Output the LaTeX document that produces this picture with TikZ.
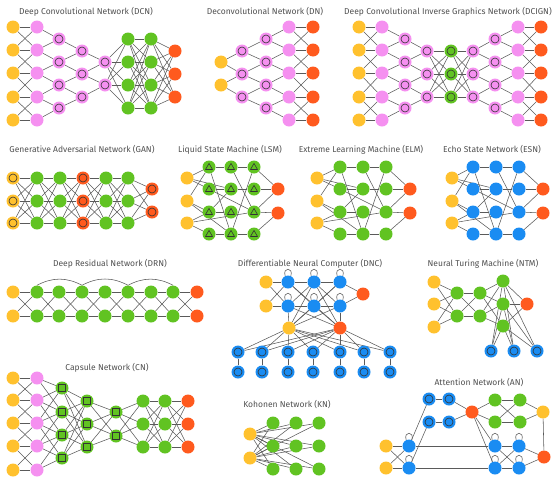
\documentclass[tikz,border=0pt]{standalone}
\usepackage{fontspec}
\setmainfont{Fira Sans}

\definecolor{nnYellow}{HTML}{FFC12E}
\definecolor{nnGreen} {HTML}{61C322}
\definecolor{nnOrange}{HTML}{FF5A1E}
\definecolor{nnPink}  {HTML}{F590F0}
\definecolor{nnBlue}  {HTML}{1A8CF2}
\definecolor{nnEdge}  {HTML}{5A5A5A}
\definecolor{nnText}  {HTML}{505050}
\colorlet{nnRing}{black!80}

\pgfdeclarelayer{edges}
\pgfsetlayers{edges,main}

\tikzset{
  neuron/.style={circle, inner sep=0pt, minimum size=13pt},
  inp/.style ={neuron, fill=nnYellow},
  hid/.style ={neuron, fill=nnGreen},
  outp/.style={neuron, fill=nnOrange},
  kern/.style={neuron, fill=nnPink},
  rec/.style ={neuron, fill=nnBlue},
  ring/.style={path picture={\draw[nnRing, line width=0.6pt]
      (path picture bounding box.center) circle (4pt);}},
  caps/.style={path picture={\draw[nnRing, line width=0.6pt]
      ([shift={(-3.3pt,-3.3pt)}]path picture bounding box.center)
      rectangle ([shift={(3.3pt,3.3pt)}]path picture bounding box.center);}},
  tri/.style={path picture={\draw[nnRing, line width=0.6pt, line join=round]
      ([yshift=3.6pt]path picture bounding box.center)
      -- ([shift={(3.5pt,-2.5pt)}]path picture bounding box.center)
      -- ([shift={(-3.5pt,-2.5pt)}]path picture bounding box.center) -- cycle;}},
  link/.style={draw=nnEdge, line width=0.55pt},
  title/.style={font=\fontsize{8.5}{9}\selectfont, text=nnText, inner sep=0pt},
}

% one column of neurons: name prefix, style, x, list of y
\newcommand{\layer}[4]{%
  \foreach \y [count=\k] in {#4} {\node[#2] (#1\k) at (#3,\y) {};}}
% join two columns: every pair closer than #5 rows
\newcommand{\linkcols}[5]{%
  \foreach \i in {1,...,#2}{\foreach \j in {1,...,#4}{%
    \pgfmathsetmacro{\dd}{abs((\i-(#2+1)/2)-(\j-(#4+1)/2))}%
    \ifdim\dd pt<#5pt \draw[link] (#1\i) -- (#3\j);\fi}}}
% sparse wiring of the reservoir nets
\newcommand{\sparse}[1]{%
  \foreach \a/\b in {A1/B1, A1/B2, A1/C2, A2/B1, A2/B3, A2/C4, A3/B3, A3/B4, A3/D3,
      B1/C1, C1/D1, B1/C4, B2/C2, C2/D2, B2/D3, B3/C3, B4/C4, C4/D4,
      C1/D3, D1/C4, B3/C2, D1/E1, D2/E1, D3/E1, D3/E2, D4/E2}
    {\draw[link] (#1\a) -- (#1\b);}}
\newcommand{\selfloop}[1]{%
  \draw[link] (#1.115) .. controls +(-3,-9) and +(3,-9) .. (#1.65);}

\begin{document}
\begin{tikzpicture}[x=1pt, y=-1pt]
\useasboundingbox (0,0) rectangle (553,477);

% titles
\node[title] (tDCN)   at (86,12)  {Deep Convolutional Network (DCN)};
\node[title] (tDN)    at (265,12) {Deconvolutional Network (DN)};
\node[title] (tDCIGN) at (448,12) {Deep Convolutional Inverse Graphics Network (DCIGN)};
\node[title] (tGAN)   at (82,150) {Generative Adversarial Network (GAN)};
\node[title] (tLSM)   at (230,150) {Liquid State Machine (LSM)};
\node[title] (tELM)   at (361,150) {Extreme Learning Machine (ELM)};
\node[title] (tESN)   at (492,150) {Echo State Network (ESN)};
\node[title] (tDRN)   at (110,264) {Deep Residual Network (DRN)};
\node[title] (tDNC)   at (310,264) {Differentiable Neural Computer (DNC)};
\node[title] (tNTM)   at (483,264) {Neural Turing Machine (NTM)};
\node[title] (tCN)    at (107,368) {Capsule Network (CN)};
\node[title] (tKN)    at (287,405) {Kohonen Network (KN)};
\node[title] (tAN)    at (479,383) {Attention Network (AN)};

% DCN
\layer{dcnA}{inp}{13}{27,50,73,97,120}
\layer{dcnB}{kern}{37}{27,50,73,97,120}
\layer{dcnC}{kern,ring}{59}{39,62,85,108}
\layer{dcnD}{kern,ring}{82}{51,74,97}
\layer{dcnE}{kern,ring}{105}{62,85}
\layer{dcnF}{hid}{128}{39,62,85,108}
\layer{dcnG}{hid}{151}{39,62,85,108}
\layer{dcnH}{outp}{175}{51,74,97}

% DN
\layer{dnA}{inp}{221}{62,85}
\layer{dnB}{kern,ring}{242}{51,74,97}
\layer{dnC}{kern,ring}{266}{39,62,85,108}
\layer{dnD}{kern}{289}{27,50,73,97,120}
\layer{dnE}{outp}{313}{27,50,73,97,120}

% DCIGN
\layer{dciA}{inp}{359}{27,50,73,97,120}
\layer{dciB}{kern}{382}{27,50,73,97,120}
\layer{dciC}{kern,ring}{405}{39,62,85,108}
\layer{dciD}{kern,ring}{427}{51,74,97}
\layer{dciE}{hid,ring}{451}{51,74,97}
\layer{dciF}{kern,ring}{473}{51,74,97}
\layer{dciG}{kern,ring}{495}{39,62,85,108}
\layer{dciH}{kern}{518}{27,50,73,97,120}
\layer{dciI}{outp}{541}{27,50,73,97,120}

% GAN
\layer{ganA}{inp,ring}{13}{178,201,223}
\layer{ganB}{hid}{37}{178,201,223}
\layer{ganC}{hid}{60}{178,201,223}
\layer{ganD}{outp,ring}{83}{178,201,223}
\layer{ganE}{hid}{106}{178,201,223}
\layer{ganF}{hid}{128}{178,201,223}
\layer{ganG}{outp,ring}{152}{189,212}

% LSM, ELM, ESN
\layer{lsmA}{inp}{187}{178,201,223}
\layer{lsmB}{hid,tri}{209}{167,189,212,234}
\layer{lsmC}{hid,tri}{231}{167,189,212,234}
\layer{lsmD}{hid,tri}{254}{167,189,212,234}
\layer{lsmE}{outp}{278}{189,213}

\layer{elmA}{inp}{317}{178,201,223}
\layer{elmB}{hid}{340}{167,189,212,234}
\layer{elmC}{hid}{363}{167,189,212,234}
\layer{elmD}{hid}{386}{167,189,212,234}
\layer{elmE}{outp}{410}{189,213}

\layer{esnA}{inp}{452}{178,201,223}
\layer{esnB}{rec}{473}{167,189,212,234}
\layer{esnC}{rec}{496}{167,189,212,234}
\layer{esnD}{rec}{519}{167,189,212,234}
\layer{esnE}{outp}{543}{189,213}

% DRN
\layer{drnA}{inp}{13}{292,316}
\foreach \c/\x in {1/37,2/59,3/82,4/105,5/128,6/151,7/173}
  {\layer{drn\c-}{hid}{\x}{292,316}}
\layer{drnZ}{outp}{197}{292,316}

% DNC
\layer{dncA}{inp}{266}{282,306}
\layer{dncB}{rec}{288}{282,306}
\layer{dncC}{rec}{314}{282,306}
\layer{dncD}{rec}{340}{282,306}
\node[outp] (dncE) at (363,294) {};
\node[inp]  (dncR) at (289,328) {};
\node[outp] (dncW) at (340,328) {};
\foreach \x [count=\k] in {238,262,288,313,340,364,390}{
  \node[rec,ring] (dncM\k) at (\x,352) {};
  \node[rec,ring] (dncN\k) at (\x,372) {};}

% NTM
\layer{ntmA}{inp}{434}{282,304,327}
\layer{ntmB}{hid}{457}{293,316}
\layer{ntmC}{hid}{480}{293,316}
\layer{ntmD}{hid}{503}{281,304,326}
\node[outp] (ntmE) at (527,304) {};
\foreach \x [count=\k] in {491,514,537}
  {\node[rec,ring] (ntmM\k) at (\x,351) {};}

% CN
\layer{cnA}{inp}{13}{378,400,423,446,470}
\layer{cnB}{kern}{37}{378,400,423,446,470}
\layer{cnC}{hid,caps}{62}{388,412,435,458}
\layer{cnD}{hid,caps}{87}{401,424,447}
\layer{cnE}{hid,caps}{116}{412,436}
\layer{cnF}{hid}{143}{401,424,447}
\layer{cnG}{hid}{165}{401,424,447}
\layer{cnH}{outp}{188}{401,424,447}

% KN
\layer{knA}{inp}{250}{434,458}
\layer{knB}{hid}{273}{423,446,469}
\layer{knC}{hid}{296}{423,446,469}
\layer{knD}{hid}{319}{423,446,469}

% AN
\node[rec,ring] (anC1) at (429,399) {};
\node[rec,ring] (anC2) at (449,399) {};
\node[rec,ring] (anC3) at (429,422) {};
\node[rec,ring] (anC4) at (449,422) {};
\node[outp] (anO) at (472,412) {};
\layer{anG}{hid}{495}{400,422}
\layer{anH}{hid}{520}{400,422}
\node[inp] (anY) at (543,412) {};
\layer{anA}{inp}{386}{446,468}
\layer{anB}{rec}{409}{446,468}
\layer{anD}{rec}{495}{446,468}
\layer{anE}{rec}{519}{446,468}
\node[outp] (anZ) at (544,457) {};

\begin{pgfonlayer}{edges}
  % DCN
  \linkcols{dcnA}{5}{dcnB}{5}{1.1}
  \linkcols{dcnB}{5}{dcnC}{4}{0.6}
  \linkcols{dcnC}{4}{dcnD}{3}{0.6}
  \linkcols{dcnD}{3}{dcnE}{2}{0.6}
  \linkcols{dcnE}{2}{dcnF}{4}{9}
  \linkcols{dcnF}{4}{dcnG}{4}{9}
  \linkcols{dcnG}{4}{dcnH}{3}{9}
  % DN
  \linkcols{dnA}{2}{dnB}{3}{0.6}
  \linkcols{dnB}{3}{dnC}{4}{0.6}
  \linkcols{dnC}{4}{dnD}{5}{0.6}
  \linkcols{dnD}{5}{dnE}{5}{1.1}
  % DCIGN
  \linkcols{dciA}{5}{dciB}{5}{1.1}
  \linkcols{dciB}{5}{dciC}{4}{0.6}
  \linkcols{dciC}{4}{dciD}{3}{0.6}
  \linkcols{dciD}{3}{dciE}{3}{9}
  \linkcols{dciE}{3}{dciF}{3}{9}
  \linkcols{dciF}{3}{dciG}{4}{0.6}
  \linkcols{dciG}{4}{dciH}{5}{0.6}
  \linkcols{dciH}{5}{dciI}{5}{1.1}
  % GAN
  \linkcols{ganA}{3}{ganB}{3}{9}
  \linkcols{ganB}{3}{ganC}{3}{9}
  \linkcols{ganC}{3}{ganD}{3}{9}
  \linkcols{ganD}{3}{ganE}{3}{9}
  \linkcols{ganE}{3}{ganF}{3}{9}
  \linkcols{ganF}{3}{ganG}{2}{9}
  % LSM, ELM, ESN
  \sparse{lsm}
  \sparse{elm}
  \sparse{esn}
  % DRN
  \linkcols{drnA}{2}{drn1-}{2}{9}
  \foreach \c [evaluate=\c as \n using int(\c+1)] in {1,...,6}
    {\linkcols{drn\c-}{2}{drn\n-}{2}{9}}
  \linkcols{drn7-}{2}{drnZ}{2}{9}
  \foreach \c/\n in {1/3,3/5,5/7}
    {\draw[link] (drn\c-1.north) to[bend left=28] (drn\n-1.north);}
  % DNC
  \linkcols{dncA}{2}{dncB}{2}{9}
  \linkcols{dncB}{2}{dncC}{2}{9}
  \linkcols{dncC}{2}{dncD}{2}{9}
  \draw[link] (dncD1) -- (dncE) (dncD2) -- (dncE);
  \foreach \n in {B1,B2,C1,C2,D1,D2} {\selfloop{dnc\n}}
  \foreach \n in {B2,C2,D2,C1,D1} {\draw[link] (dncR) -- (dnc\n);}
  \foreach \n in {B2,C2,D2,B1,C1} {\draw[link] (dncW) -- (dnc\n);}
  \foreach \k in {1,...,7}{
    \draw[link] (dncR) -- (dncM\k);
    \draw[link] (dncW) -- (dncM\k);
    \draw[link] (dncM\k) -- (dncN\k);}
  % NTM
  \linkcols{ntmA}{3}{ntmB}{2}{9}
  \linkcols{ntmB}{2}{ntmC}{2}{9}
  \linkcols{ntmC}{2}{ntmD}{3}{9}
  \foreach \k in {1,2,3}{
    \draw[link] (ntmD\k) -- (ntmE);
    \foreach \m in {1,2,3} {\draw[link] (ntmD\k) -- (ntmM\m);}}
  % CN
  \linkcols{cnA}{5}{cnB}{5}{1.1}
  \linkcols{cnB}{5}{cnC}{4}{1.6}
  \linkcols{cnC}{4}{cnD}{3}{9}
  \linkcols{cnD}{3}{cnE}{2}{9}
  \linkcols{cnE}{2}{cnF}{3}{9}
  \linkcols{cnF}{3}{cnG}{3}{9}
  \linkcols{cnG}{3}{cnH}{3}{9}
  % KN
  \foreach \col in {B,C,D}{\linkcols{knA}{2}{kn\col}{3}{9}}
  % AN
  \linkcols{anA}{2}{anB}{2}{9}
  \linkcols{anD}{2}{anE}{2}{9}
  \linkcols{anG}{2}{anH}{2}{9}
  \draw[link] (anB1) -- (anC1) (anB2) -- (anC3);
  \draw[link] (anC1) -- (anC2) (anC3) -- (anC4);
  \draw[link] (anC2) -- (anO) (anC4) -- (anO);
  \draw[link] (anO) -- (anG1) (anO) -- (anG2);
  \draw[link] (anO) -- (anD1) (anO) -- (anD2);
  \draw[link] (anH1) -- (anY) (anH2) -- (anY) (anY) -- (anZ);
  \draw[link] (anB1) -- (anD1) (anB2) -- (anD2);
  \draw[link] (anE1) -- (anZ) (anE2) -- (anZ);
  \foreach \n in {B1,B2,D1,D2,E1,E2} {\selfloop{an\n}}
\end{pgfonlayer}
\end{tikzpicture}
\end{document}
